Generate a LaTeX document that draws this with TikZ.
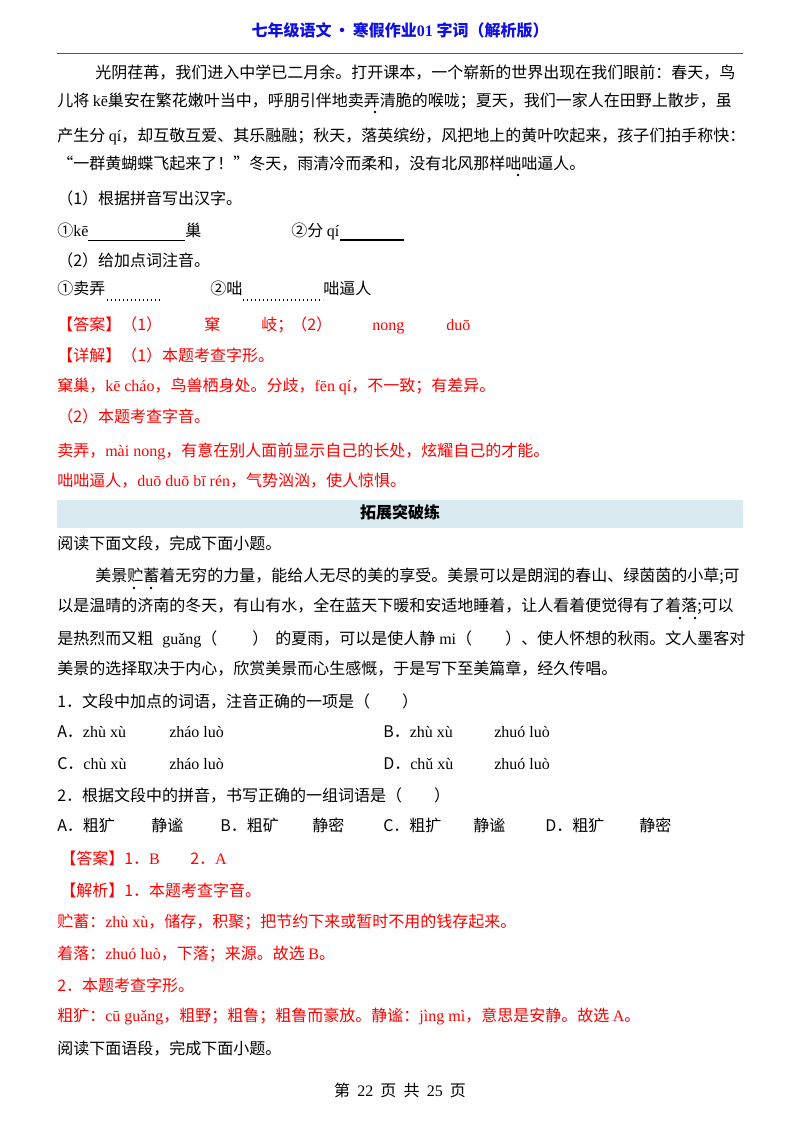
\documentclass[tikz,border=0pt]{standalone}
\usepackage{fontspec}
\setmainfont{Noto Sans CJK SC}
\newfontfamily\pyfont{Liberation Serif}
\newcommand{\py}[1]{{\pyfont #1}}
\definecolor{hdblue}{HTML}{1010E0}
\definecolor{band}{HTML}{DAEAF1}
\definecolor{rd}{HTML}{FF0000}
\tikzset{
  tx/.style={anchor=west,inner sep=0pt,text height=9pt,text depth=3pt,font=\fontsize{12}{14}\selectfont},
  rtx/.style={tx,text=rd},
  ctx/.style={anchor=center,inner sep=0pt,text height=9pt,text depth=3pt,font=\fontsize{12}{14}\selectfont},
  edot/.style={fill=black,draw=none},
  blank/.style={line width=0.6pt},
  dblank/.style={line width=0.8pt,dash pattern=on 1pt off 2pt}
}
\begin{document}
\begin{tikzpicture}[x=0.75pt,y=-0.75pt]
\useasboundingbox (0,0) rectangle (800,1132);
\fill[white] (0,0) rectangle (800,1132);
% header
\node[ctx,text=hdblue,font=\fontsize{12}{14}\selectfont\bfseries] (hd) at (400,32) {七年级语文\,•\,寒假作业\py{\textbf{01}} 字词（解析版）};
\draw[line width=0.6pt,gray!70!black] (57,53) coordinate (r1) -- (743,53) coordinate (r2);
% passage 1
\node[tx] (p1) at (95,74) {光阴荏苒，我们进入中学已二月余。打开课本，一个崭新的世界出现在我们眼前：春天，鸟};
\node[tx] (p2) at (57,102) {儿将 \py{kē}巢安在繁花嫩叶当中，呼朋引伴地卖弄清脆的喉咙；夏天，我们一家人在田野上散步，虽};
\node[tx] (p3) at (57,137) {产生分 \py{qí}，却互敬互爱、其乐融融；秋天，落英缤纷，风把地上的黄叶吹起来，孩子们拍手称快：};
\node[tx] (p4) at (57,165) {“一群黄蝴蝶飞起来了！”冬天，雨清冷而柔和，没有北风那样咄咄逼人。};
\fill[edot] (375,112) circle (1.3);
\fill[edot] (518,175) circle (1.3);
\node[tx] (q1) at (57,200) {（1）根据拼音写出汉字。};
\node[tx] (q1a) at (57,232) {①\py{kē}};
\draw[blank] (88,240) -- (185,240);
\node[tx] (q1b) at (185,232) {巢};
\node[tx] (q1c) at (291,232) {②分 \py{qí}};
\draw[line width=1.3pt] (340,240) -- (404,240);
\node[tx] (q2) at (57,262) {（2）给加点词注音。};
\node[tx] (q2a) at (57,290) {①卖弄};
\draw[dblank] (107,300) -- (162,300);
\node[tx] (q2b) at (210,290) {②咄};
\draw[dblank] (243,300) -- (323,300);
\node[tx] (q2c) at (323,290) {咄逼人};
% answers 1
\node[rtx] (a1) at (57,326) {【答案】（1）};
\node[rtx] (a1b) at (204,326) {窠};
\node[rtx] (a1c) at (261,326) {岐；};
\node[rtx] (a1d) at (291,326) {（2）};
\node[rtx] (a1e) at (372,326) {\py{nong}};
\node[rtx] (a1f) at (446,326) {\py{duō}};
\node[rtx] (d1) at (57,357) {【详解】（1）本题考查字形。};
\node[rtx] (d2) at (57,387) {窠巢，\py{kē cháo}，鸟兽栖身处。分歧，\py{fēn qí}，不一致；有差异。};
\node[rtx] (d3) at (57,418) {（2）本题考查字音。};
\node[rtx] (d4) at (57,452) {卖弄，\py{mài nong}，有意在别人面前显示自己的长处，炫耀自己的才能。};
\node[rtx] (d5) at (57,482) {咄咄逼人，\py{duō duō bī rén}，气势汹汹，使人惊惧。};
% band
\fill[band] (57,500) rectangle (743,528);
\node[ctx,font=\fontsize{12}{14}\selectfont\bfseries] (bt) at (400,514) {拓展突破练};
% passage 2
\node[tx] (s0) at (57,545) {阅读下面文段，完成下面小题。};
\node[tx] (s1) at (95,577) {美景贮蓄着无穷的力量，能给人无尽的美的享受。美景可以是朗润的春山、绿茵茵的小草;可};
\node[tx] (s2) at (57,607) {以是温晴的济南的冬天，有山有水，全在蓝天下暖和安适地睡着，让人看着便觉得有了着落;可以};
\node[tx] (s3a) at (57,640) {是热烈而又粗};
\node[tx] (s3b) at (162,640) {\py{guǎng}（};
\node[tx] (s3c) at (252,640) {）};
\node[tx] (s3d) at (275,640) {的夏雨，可以是使人静};
\node[tx] (s3e) at (439,640) {\py{mi}（};
\node[tx] (s3f) at (505,640) {）、使人怀想的秋雨。文人墨客对};
\node[tx] (s4) at (57,670) {美景的选择取决于内心，欣赏美景而心生感慨，于是写下至美篇章，经久传唱。};
\fill[edot] (134,588) circle (1.3);
\fill[edot] (151,588) circle (1.3);
\fill[edot] (680,618) circle (1.3);
\fill[edot] (695,618) circle (1.3);
% questions
\node[tx] (k1) at (57,703) {1．文段中加点的词语，注音正确的一项是（　　）};
\node[tx] (o1) at (57,733) {A．\py{zhù xù}};
\node[tx] (o1b) at (169,733) {\py{zháo luò}};
\node[tx] (o2) at (383,733) {B．\py{zhù xù}};
\node[tx] (o2b) at (494,733) {\py{zhuó luò}};
\node[tx] (o3) at (57,765) {C．\py{chù xù}};
\node[tx] (o3b) at (169,765) {\py{zháo luò}};
\node[tx] (o4) at (383,765) {D．\py{chǔ xù}};
\node[tx] (o4b) at (494,765) {\py{zhuó luò}};
\node[tx] (k2) at (57,797) {2．根据文段中的拼音，书写正确的一组词语是（　　）};
\node[tx] (w1) at (57,827) {A．粗犷};
\node[tx] (w1b) at (151,827) {静谧};
\node[tx] (w2) at (220,827) {B．粗矿};
\node[tx] (w2b) at (312,827) {静密};
\node[tx] (w3) at (383,827) {C．粗扩};
\node[tx] (w3b) at (473,827) {静谧};
\node[tx] (w4) at (545,827) {D．粗犷};
\node[tx] (w4b) at (639,827) {静密};
% answers 2
\node[rtx] (b1) at (60,860) {【答案】1．\py{B}};
\node[rtx] (b1b) at (190,860) {2．\py{A}};
\node[rtx] (e1) at (60,892) {【解析】1．本题考查字音。};
\node[rtx] (e2) at (57,923) {贮蓄：\py{zhù xù}，储存，积聚；把节约下来或暂时不用的钱存起来。};
\node[rtx] (e3) at (57,955) {着落：\py{zhuó luò}，下落；来源。故选 \py{B}。};
\node[rtx] (e4) at (57,987) {2．本题考查字形。};
\node[rtx] (e5) at (57,1017) {粗犷：\py{cū guǎng}，粗野；粗鲁；粗鲁而豪放。静谧：\py{jìng mì}，意思是安静。故选 \py{A}。};
\node[tx] (s5) at (57,1050) {阅读下面语段，完成下面小题。};
\node[ctx] (ft) at (400,1092) {第\ \ \py{22}\ \ 页\ \ 共\ \ \py{25}\ \ 页};
\end{tikzpicture}
\end{document}
